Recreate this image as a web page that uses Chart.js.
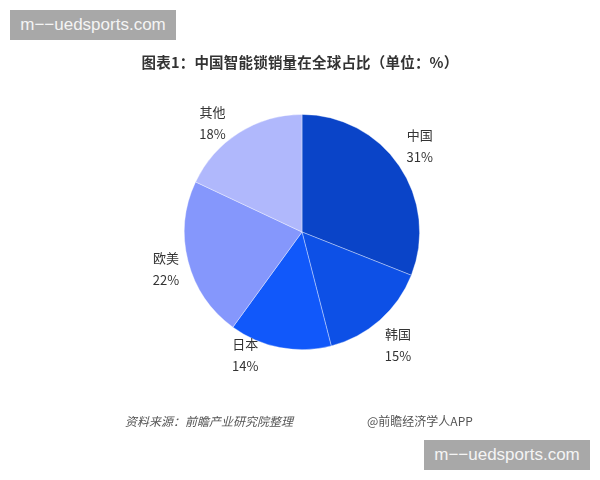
<!DOCTYPE html>
<html><head><meta charset="utf-8">
<script src="https://cdn.jsdelivr.net/npm/chart.js@4"></script>
<style>
html,body{margin:0;padding:0;background:#fff;}
body{width:600px;height:480px;position:relative;overflow:hidden;font-family:"Noto Sans CJK SC","Noto Sans",sans-serif;}
#c{position:absolute;left:0;top:0;}
.wm{position:absolute;background:#a8a8a8;color:#f4f4f4;font-family:"Liberation Sans","DejaVu Sans",sans-serif;font-size:17px;line-height:30px;width:166px;height:30px;text-align:center;}
.title{position:absolute;left:0;width:600px;top:51px;text-align:center;font-size:14.5px;font-weight:bold;color:#333;letter-spacing:0.2px;}
.foot{position:absolute;top:412px;font-size:12px;color:#555;}
</style></head><body>
<canvas id="c" width="600" height="480"></canvas>
<div class="wm" style="left:10px;top:10px;">m−−uedsports.com</div>
<div class="wm" style="left:424px;top:440px;">m−−uedsports.com</div>
<div class="title">图表1：中国智能锁销量在全球占比（单位：%）</div>
<div class="foot" style="left:125px;font-style:italic;">资料来源：前瞻产业研究院整理</div>
<div class="foot" style="left:367px;">@前瞻经济学人APP</div>
<script>
const categories = ["中国","韩国","日本","欧美","其他"];
const shares = [31, 15, 14, 22, 18];
const colors = ["#0a44c8","#0d50e6","#1158fa","#8597fc","#b0b8fc"];

const labelPlugin = {
  id: 'outLabels',
  afterDatasetsDraw(chart, args, opts) {
    const ctx = chart.ctx;
    const meta = chart.getDatasetMeta(0);
    ctx.save();
    ctx.font = '13px "Noto Sans CJK SC", "Noto Sans", sans-serif';
    ctx.fillStyle = '#333';
    ctx.textAlign = 'center';
    ctx.textBaseline = 'middle';
    meta.data.forEach((arc, i) => {
      const p = arc.getProps(['x','y','startAngle','endAngle','outerRadius'], true);
      const a = (p.startAngle + p.endAngle) / 2 + (opts.shift[i] || 0) * Math.PI / 180;
      const r = p.outerRadius * opts.factor[i];
      const x = p.x + Math.cos(a) * r;
      const y = p.y + Math.sin(a) * r;
      ctx.fillText(categories[i], x, y - 11);
      ctx.fillText(shares[i] + '%', x, y + 11);
    });
    ctx.restore();
  }
};

new Chart(document.getElementById('c'), {
  type: 'pie',
  data: { labels: categories, datasets: [{ data: shares, backgroundColor: colors, borderColor: 'rgba(255,255,255,0.45)', borderWidth: 0.8 }] },
  options: {
    responsive: false, animation: false,
    layout: { padding: { left: 184, right: 180, top: 114, bottom: 130 } },
    plugins: { legend: { display: false }, tooltip: { enabled: false }, title: { display: false },
      outLabels: { factor: [1.24, 1.26, 1.15, 1.2, 1.2], shift: [-2, 1, 14, -1, -7] } }
  },
  plugins: [labelPlugin]
});
</script>
</body></html>
